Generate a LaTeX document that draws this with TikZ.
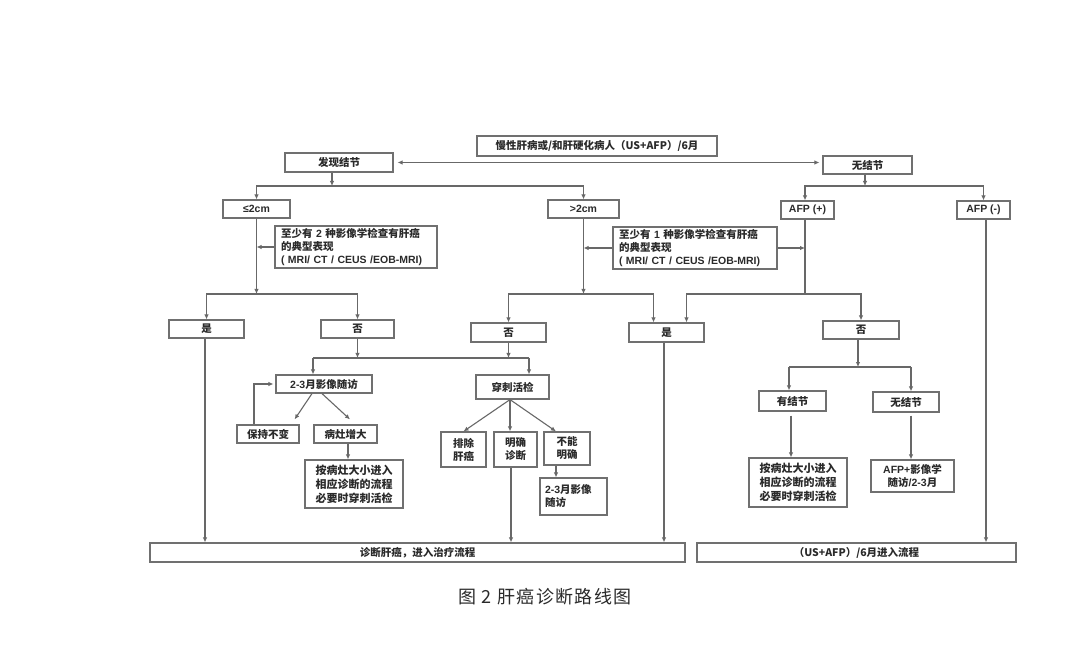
\documentclass[tikz,border=0pt]{standalone}
\usepackage{fontspec}
\setmainfont{Noto Sans CJK SC}
\newfontfamily\lat{Liberation Sans}
\newfontfamily\capfont{Noto Sans CJK SC}[LetterSpace=8]
\usetikzlibrary{arrows.meta}
\definecolor{linec}{HTML}{686868}
\definecolor{boxc}{HTML}{707070}
\definecolor{txtc}{HTML}{2A2A2A}
\begin{document}
\begin{tikzpicture}[x=1pt,y=-1pt,
 box/.style={draw=boxc, line width=1.2pt, inner sep=0pt, align=center, text=txtc, font=\fontsize{10.5}{13}\selectfont\bfseries},
 ln/.style={draw=linec, line width=1.1pt},
 arr/.style={ln, -{Latex[length=5pt,width=4.5pt]}},
 darr/.style={ln, line width=1.4pt, {Latex[length=5pt,width=4.5pt]}-{Latex[length=5pt,width=4.5pt]}}
]
\useasboundingbox[fill=white] (0,0) rectangle (1080,663);

% nodes
\node[box, minimum width=240pt, minimum height=20pt] (top) at (597,146) {慢性肝病或/和肝硬化病人（US+AFP）/6月};
\node[box, minimum width=108pt, minimum height=19pt] (fx) at (339,162.5) {发现结节};
\node[box, minimum width=89pt, minimum height=18pt] (wjj) at (867.5,165) {无结节};
\node[box, minimum width=67pt, minimum height=18pt] (le2) at (256.5,209) {\lat\bfseries ≤2cm};
\node[box, minimum width=71pt, minimum height=18pt] (gt2) at (583.5,209) {\lat\bfseries >2cm};
\node[box, minimum width=53pt, minimum height=18pt] (afpp) at (807.5,210) {\lat\bfseries AFP (+)};
\node[box, minimum width=53pt, minimum height=18pt] (afpm) at (983.5,210) {\lat\bfseries AFP (-)};
\node[box, minimum width=162pt, minimum height=42pt, text width=150pt, align=left] (n1) at (356,247) {至少有 {\lat\bfseries 2} 种影像学检查有肝癌\\的典型表现\\{\lat\bfseries ( MRI/ CT / CEUS /EOB-MRI)}};
\node[box, minimum width=164pt, minimum height=42pt, text width=152pt, align=left] (n2) at (695,248) {至少有 {\lat\bfseries 1} 种影像学检查有肝癌\\的典型表现\\{\lat\bfseries ( MRI/ CT / CEUS /EOB-MRI)}};
\node[box, minimum width=75pt, minimum height=18pt] (shi1) at (206.5,329) {是};
\node[box, minimum width=73pt, minimum height=18pt] (fou1) at (357.5,329) {否};
\node[box, minimum width=75pt, minimum height=19pt] (fou2) at (508.5,332.5) {否};
\node[box, minimum width=75pt, minimum height=19pt] (shi2) at (666.5,332.5) {是};
\node[box, minimum width=76pt, minimum height=18pt] (fou3) at (861,330) {否};
\node[box, minimum width=96pt, minimum height=18pt] (fu1) at (324,384) {{\lat\bfseries 2-3}月影像随访};
\node[box, minimum width=73pt, minimum height=24pt] (cc) at (512.5,387) {穿刺活检};
\node[box, minimum width=62pt, minimum height=18pt] (bc) at (268,434) {保持不变};
\node[box, minimum width=63pt, minimum height=18pt] (bz) at (345.5,434) {病灶增大};
\node[box, minimum width=98pt, minimum height=48pt, font=\fontsize{11}{14}\selectfont\bfseries] (ab1) at (354,484) {按病灶大小进入\\相应诊断的流程\\必要时穿刺活检};
\node[box, minimum width=45pt, minimum height=35pt, align=left] (pc) at (463.5,449.5) {排除\\肝癌};
\node[box, minimum width=43pt, minimum height=35pt, align=left] (mq) at (515.5,449.5) {明确\\诊断};
\node[box, minimum width=46pt, minimum height=33pt, align=left] (bn) at (567,448.5) {不能\\明确};
\node[box, minimum width=67pt, minimum height=37pt, text width=57pt, align=left] (fu2) at (573.5,496.5) {{\lat\bfseries 2-3}月影像\\随访};
\node[box, minimum width=67pt, minimum height=20pt] (yj) at (792.5,401) {有结节};
\node[box, minimum width=66pt, minimum height=20pt] (wj2) at (906,402) {无结节};
\node[box, minimum width=98pt, minimum height=49pt, font=\fontsize{11}{14}\selectfont\bfseries] (ab2) at (798,482.5) {按病灶大小进入\\相应诊断的流程\\必要时穿刺活检};
\node[box, minimum width=83pt, minimum height=32pt] (afpy) at (912.5,476) {{\lat\bfseries AFP+}影像学\\随访{\lat\bfseries /2-3}月};
\node[box, minimum width=535pt, minimum height=19pt] (zd) at (417.5,552.5) {诊断肝癌，进入治疗流程};
\node[box, minimum width=319pt, minimum height=19pt] (jl) at (856.5,552.5) {（US+AFP）/6月进入流程};
\node[text=txtc, font=\capfont\fontsize{18}{21}\selectfont] (cap) at (545,597) {图 2 肝癌诊断路线图};

% junction coordinates
\coordinate (j1) at (332,186);
\coordinate (j2) at (865,186);
\coordinate (j3) at (256.5,294);
\coordinate (j4) at (583.5,294);
\coordinate (j5) at (805,294);
\coordinate (h1) at (313,358);
\coordinate (h2) at (529,358);
\coordinate (h3) at (789,367);
\coordinate (h4) at (911,367);

% connectors
\draw[darr, shorten <=4pt, shorten >=3pt] (fx.east) -- (fx.east -| wjj.west);

\draw[arr] (fx.south -| j1) -- (j1);
\draw[arr] (j1) -| (le2);
\draw[arr] (j1) -| (gt2);

\draw[arr] (wjj.south -| j2) -- (j2);
\draw[arr] (j2) -| (j5 |- afpp.north);
\draw[arr] (j2) -| (afpm);

\draw[arr] (le2) -- (j3);
\draw[arr] (n1.west) -- (n1.west -| j3);
\draw[arr] (j3) -| (shi1);
\draw[arr] (j3) -| (fou1);

\draw[arr] (gt2) -- (j4);
\draw[arr] (n2.west) -- (n2.west -| j4);
\draw[arr] (n2.east) -- (n2.east -| j5);
\draw[ln] (j5 |- afpp.south) -- (j5);
\draw[arr] (j4) -| (fou2);
\draw[arr] (j4) -| ([xshift=-13pt]shi2.north);
\draw[arr] (j5) -| ([xshift=20pt]shi2.north);
\draw[arr] (j5) -| (fou3);

\draw[arr] (fou1) -- (fou1 |- h1);
\draw[arr] (fou2) -- (fou2 |- h1);
\draw[ln] (h1) -- (h2);
\draw[arr] (h1) -- (h1 |- fu1.north);
\draw[arr] (h2) -- (h2 |- cc.north);

\draw[arr] ([xshift=-12pt]fu1.south) -- ([xshift=-5pt,yshift=5pt]bc.north east);
\draw[arr] ([xshift=-2pt]fu1.south) -- ([xshift=4.5pt,yshift=5pt]bz.north);
\draw[arr, shorten >=2pt] ([xshift=-14pt]bc.north) |- (fu1.west);
\draw[arr] ([xshift=2.5pt]bz.south) -- ([xshift=2.5pt]bz.south |- ab1.north);

\coordinate (cs) at ([xshift=-2.5pt]cc.south);
\draw[arr] (cs) -- (pc.north);
\draw[arr] (cs) -- (cs |- mq.north);
\draw[arr] (cs) -- ([xshift=-11pt]bn.north);
\draw[arr] ([xshift=-11pt]bn.south) -- ([xshift=-11pt]bn.south |- fu2.north);

\draw[arr] ([xshift=-4.5pt]mq.south) -- ([xshift=-4.5pt]mq.south |- zd.north);
\draw[arr] ([xshift=-1.5pt]shi1.south) -- ([xshift=-1.5pt]shi1.south |- zd.north);
\draw[arr] ([xshift=-2.5pt]shi2.south) -- ([xshift=-2.5pt]shi2.south |- zd.north);

\draw[arr] ([xshift=-3pt]fou3.south) -- ([xshift=-3pt]fou3.south |- h3);
\draw[ln] (h3) -- (h4);
\draw[arr] (h3) -- (h3 |- yj.north);
\draw[arr] (h4) -- (h4 |- wj2.north);
\draw[arr] ([xshift=-1.5pt,yshift=-4pt]yj.south) -- ([xshift=-1.5pt]yj.south |- ab2.north);
\draw[arr] ([xshift=5pt,yshift=-3pt]wj2.south) -- ([xshift=5pt]wj2.south |- afpy.north);

\draw[arr] ([xshift=2.5pt]afpm.south) -- ([xshift=2.5pt]afpm.south |- jl.north);
\end{tikzpicture}
\end{document}
